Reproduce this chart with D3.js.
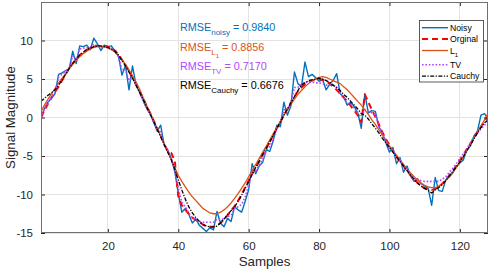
<!DOCTYPE html>
<html>
<head>
<meta charset="utf-8">
<script src="https://cdn.jsdelivr.net/npm/d3@7"></script>
<style>
html,body{margin:0;padding:0;background:#fff;}
svg{display:block;font-family:"Liberation Sans",Arial,Helvetica,sans-serif;}
</style>
</head>
<body>
<svg id="chart" width="498" height="273"></svg>
<script>
// ---- data ----
const samples = d3.range(1, 129);

const noisy = [0.0,1.2,2.0,2.5,3.1,5.6,5.8,6.1,6.3,8.6,7.0,9.3,9.2,9.4,8.8,10.3,9.6,8.7,9.4,9.2,
9.3,8.6,8.0,5.5,6.8,3.6,6.7,4.2,3.3,2.2,1.2,0.5,-0.6,-1.8,-1.0,-3.6,-4.2,-5.3,-7.0,-9.8,
-12.3,-11.8,-12.6,-13.7,-13.2,-14.0,-14.4,-14.8,-14.3,-14.6,-12.2,-13.7,-14.2,-13.1,-13.5,-11.6,-12.0,-12.3,-10.9,-9.4,
-6.0,-7.3,-6.3,-5.8,-4.2,-4.4,-3.0,-1.0,-1.2,2.0,0.3,1.5,5.9,4.4,4.0,7.2,5.3,5.6,5.2,4.7,
4.9,3.6,4.3,4.8,5.7,3.1,2.7,1.6,2.0,1.4,0.6,-1.4,3.1,0.6,0.9,0.8,-1.2,-2.0,-3.3,-4.5,
-3.9,-6.0,-5.2,-7.1,-6.3,-7.6,-8.3,-8.0,-8.6,-8.9,-9.2,-11.4,-7.8,-9.5,-9.6,-8.1,-7.7,-7.2,-6.4,-5.9,
-5.5,-4.2,-3.7,-2.4,-1.8,0.3,0.5,-0.1];

const original = [0.0,0.9,1.8,2.6,3.3,4.0,4.8,5.6,6.4,7.0,7.6,8.1,8.5,8.8,9.0,9.2,9.3,9.3,9.3,9.2,
9.0,8.7,8.2,7.5,6.8,6.0,5.2,4.3,3.4,2.5,1.5,0.6,-0.4,-1.4,-2.4,-3.4,-4.4,-4.6,-5.6,-10.2,
-11.4,-12.0,-12.5,-13.0,-13.3,-13.6,-13.9,-14.1,-14.2,-14.2,-14.0,-13.7,-13.2,-12.7,-12.1,-11.5,-10.8,-10.0,-9.1,-8.2,
-7.3,-6.5,-5.7,-4.8,-4.0,-3.2,-2.3,-1.4,-0.6,0.3,1.1,1.9,2.7,3.4,3.9,4.3,4.6,4.8,4.9,5.0,
4.9,4.7,4.4,4.0,3.6,3.1,2.6,2.1,1.5,0.9,0.3,-0.6,3.0,2.0,1.0,0.1,-0.9,-1.9,-2.8,-3.6,
-4.4,-5.1,-5.7,-6.3,-6.9,-7.5,-8.0,-8.5,-8.9,-9.2,-9.3,-9.4,-9.3,-9.0,-8.6,-8.1,-7.5,-6.9,-6.3,-5.6,
-4.9,-4.1,-3.4,-2.6,-1.9,-1.2,-0.5,0.2];

const l1 = [0.8,1.6,2.4,3.1,3.8,4.5,5.1,5.7,6.3,6.9,7.4,7.9,8.3,8.6,8.9,9.1,9.2,9.2,9.2,9.0,
8.8,8.5,8.0,7.5,6.9,6.2,5.4,4.6,3.7,2.6,1.6,0.6,-0.4,-1.4,-2.4,-3.4,-4.4,-5.4,-6.5,-7.5,
-8.3,-9.0,-9.7,-10.3,-10.8,-11.3,-11.8,-12.1,-12.4,-12.5,-12.5,-12.3,-12.0,-11.6,-11.1,-10.5,-9.9,-9.2,-8.5,-7.7,
-6.9,-6.1,-5.3,-4.5,-3.7,-2.9,-2.1,-1.3,-0.5,0.3,1.0,1.7,2.4,3.0,3.5,4.0,4.4,4.8,5.0,5.2,
5.3,5.2,5.0,4.8,4.6,4.4,4.0,3.6,3.1,2.6,2.1,1.6,1.0,0.4,-0.3,-0.9,-1.6,-2.3,-3.0,-3.7,
-4.3,-4.9,-5.5,-6.1,-6.7,-7.2,-7.7,-8.1,-8.5,-8.8,-9.0,-9.1,-9.1,-8.9,-8.6,-8.2,-7.7,-7.1,-6.5,-5.8,
-5.1,-4.3,-3.5,-2.7,-1.9,-1.1,-0.3,0.5];

const tv = [0.0,1.1,2.0,2.6,3.2,5.3,5.6,6.0,6.3,8.0,7.5,8.9,9.0,9.1,9.1,9.5,9.3,9.0,9.2,9.1,
9.0,8.5,7.9,6.2,6.2,4.8,5.2,4.2,3.3,2.2,1.2,0.4,-0.6,-1.5,-1.8,-3.5,-4.3,-5.3,-6.9,-9.2,
-11.0,-11.6,-12.4,-13.1,-13.2,-13.5,-13.6,-13.6,-13.6,-13.6,-13.2,-13.2,-13.2,-12.9,-12.7,-11.8,-11.6,-11.3,-10.3,-8.8,
-7.0,-7.0,-6.2,-5.4,-4.3,-3.8,-2.7,-1.4,-0.9,1.0,1.0,1.9,3.9,3.9,4.3,4.6,4.6,4.6,4.5,4.5,
4.4,4.2,4.2,4.2,3.9,3.1,2.6,1.9,1.7,1.2,0.5,0.1,1.0,0.8,0.6,0.4,-1.1,-2.0,-3.1,-4.0,
-4.3,-5.2,-5.5,-6.5,-6.7,-7.5,-7.9,-8.0,-8.2,-8.3,-8.3,-8.3,-8.3,-8.3,-8.0,-7.7,-7.1,-6.6,-6.0,-5.3,
-4.7,-4.0,-3.3,-2.6,-2.0,-1.5,-1.0,-0.6];

const cauchy = [2.1,2.5,2.9,3.2,3.6,4.2,4.9,5.6,6.4,7.0,7.6,8.1,8.5,8.8,9.0,9.2,9.3,9.3,9.2,9.1,
8.9,8.6,8.1,7.4,6.7,5.9,5.1,4.2,3.3,2.4,1.4,0.5,-0.5,-1.5,-2.5,-3.5,-4.5,-5.5,-6.7,-8.1,
-9.4,-10.6,-11.6,-12.4,-13.0,-13.5,-13.9,-14.1,-14.2,-14.2,-14.1,-13.7,-13.2,-12.6,-12.1,-11.6,-10.9,-10.1,-9.2,-8.3,
-7.4,-6.5,-5.7,-4.8,-4.0,-3.2,-2.3,-1.4,-0.6,0.3,1.1,1.9,2.7,3.5,4.2,4.5,4.8,4.9,5.0,5.1,
5.0,4.8,4.6,4.2,3.9,3.5,3.0,2.6,2.1,1.6,1.1,0.5,0.3,-0.2,-0.8,-1.4,-2.0,-2.7,-3.3,-3.9,
-4.5,-5.1,-5.7,-6.3,-6.9,-7.5,-8.0,-8.5,-8.9,-9.2,-9.5,-9.8,-9.4,-9.1,-8.7,-8.2,-7.6,-7.0,-6.4,-5.8,
-5.1,-4.3,-3.6,-2.8,-2.0,-1.3,-0.7,-0.3];

const xTicks = [20, 40, 60, 80, 100, 120];
const yTicks = [-15, -10, -5, 0, 5, 10];
const yGrid = [-15, -10, -5, 0, 5, 10, 15];

const seriesNames = ["Noisy", "Orginal", "L1", "TV", "Cauchy"];
const rmseLabels = ["noisy", "L1", "TV", "Cauchy"];
const rmseValues = ["0.9840", "0.8856", "0.7170", "0.6676"];

// ---- drawing ----
const svg = d3.select("#chart");
const L = 41, R = 488, T = 2, B = 233;
const x = d3.scaleLinear().domain([1, 128]).range([L, R]);
const y = d3.scaleLinear().domain([-15, 15]).range([B, T]);

const axisColor = "#262626";

// grid
const grid = svg.append("g");
grid.selectAll("line.gx").data(xTicks).join("line")
  .attr("x1", d => x(d)).attr("x2", d => x(d)).attr("y1", T).attr("y2", B)
  .attr("stroke", "#e3e3e3").attr("stroke-width", 1).attr("shape-rendering", "crispEdges");
grid.selectAll("line.gy").data(yGrid).join("line")
  .attr("x1", L).attr("x2", R).attr("y1", d => y(d)).attr("y2", d => y(d))
  .attr("stroke", "#e3e3e3").attr("stroke-width", 1).attr("shape-rendering", "crispEdges");

// series
const colors = {Noisy: "#0072BD", Orginal: "#FF0000", L1: "#D95319", TV: "#B446FF", Cauchy: "#000000"};
const styles = {
  Noisy:   {w: 1.4, dash: null},
  Orginal: {w: 2.0, dash: "6,4"},
  L1:      {w: 1.3, dash: null},
  TV:      {w: 1.6, dash: "1.6,1.8"},
  Cauchy:  {w: 1.3, dash: "4,1.5,1.2,1.5"}
};
const data = {Noisy: noisy, Orginal: original, L1: l1, TV: tv, Cauchy: cauchy};
const line = d3.line().x((d, i) => x(samples[i])).y(d => y(d));

svg.append("clipPath").attr("id", "clip").append("rect")
  .attr("x", L).attr("y", T).attr("width", R - L).attr("height", B - T);

const plot = svg.append("g").attr("clip-path", "url(#clip)");
seriesNames.forEach(name => {
  plot.append("path").datum(data[name])
    .attr("d", line)
    .attr("fill", "none")
    .attr("stroke", colors[name])
    .attr("stroke-width", styles[name].w)
    .attr("stroke-dasharray", styles[name].dash)
    .attr("stroke-linejoin", "round");
});

// axes
const tickFont = "11.5px";
const gx = svg.append("g").attr("transform", `translate(0,${B})`)
  .call(d3.axisBottom(x).tickValues(xTicks).tickSize(-4).tickPadding(9).tickSizeOuter(0));
const gxTop = svg.append("g").attr("transform", `translate(0,${T})`)
  .call(d3.axisTop(x).tickValues(xTicks).tickSize(-4).tickFormat("").tickSizeOuter(0));
const gy = svg.append("g").attr("transform", `translate(${L},0)`)
  .call(d3.axisLeft(y).tickValues(yTicks).tickSize(-4).tickPadding(8).tickSizeOuter(0));
const gyR = svg.append("g").attr("transform", `translate(${R},0)`)
  .call(d3.axisRight(y).tickValues(yTicks).tickSize(-4).tickFormat("").tickSizeOuter(0));

[gx, gxTop, gy, gyR].forEach(g => {
  g.select(".domain").remove();
  g.selectAll("line").attr("stroke", axisColor);
  g.selectAll("text").attr("fill", axisColor).style("font-size", tickFont)
    .style("font-family", '"Liberation Sans",Arial,sans-serif');
});
gy.selectAll("text").text(d => d < 0 ? "-" + Math.abs(d) : d);

// box
svg.append("rect").attr("x", L + 0.5).attr("y", T + 0.5)
  .attr("width", R - L - 1).attr("height", B - T - 1)
  .attr("fill", "none").attr("stroke", "#707070").attr("stroke-width", 1)
  .attr("shape-rendering", "crispEdges");

// axis labels
svg.append("text").attr("x", (L + R) / 2).attr("y", 266).attr("text-anchor", "middle")
  .attr("fill", axisColor).style("font-size", "13.3px").text("Samples");
svg.append("text").attr("transform", `translate(15,${(T + B) / 2}) rotate(-90)`)
  .attr("text-anchor", "middle").attr("fill", axisColor).style("font-size", "13.3px")
  .text("Signal Magnitude");

// RMSE annotations
const annColors = ["#0072BD", "#D95319", "#B446FF", "#000000"];
const annY = [31, 50.5, 69.5, 89];
rmseLabels.forEach((lab, i) => {
  const t = svg.append("text").attr("x", 180).attr("y", annY[i])
    .attr("fill", annColors[i]).style("font-size", "10.8px");
  t.append("tspan").text("RMSE");
  if (lab === "L1") {
    t.append("tspan").attr("dy", 4).style("font-size", "8px").text("L");
    t.append("tspan").attr("dy", 3).style("font-size", "6px").text("1");
    t.append("tspan").attr("dy", -7).text(" = " + rmseValues[i]);
  } else {
    t.append("tspan").attr("dy", 4).style("font-size", "8px").text(lab);
    t.append("tspan").attr("dy", -4).text(" = " + rmseValues[i]);
  }
});

// legend
const lg = svg.append("g");
lg.append("rect").attr("x", 419.5).attr("y", 20.5).attr("width", 64).attr("height", 61.5)
  .attr("fill", "#fff").attr("stroke", "#333").attr("stroke-width", 0.8);
const rowY = [27.7, 39, 50.5, 64.8, 76.2];
seriesNames.forEach((name, i) => {
  lg.append("line").attr("x1", 422).attr("x2", 448).attr("y1", rowY[i]).attr("y2", rowY[i])
    .attr("stroke", colors[name]).attr("stroke-width", styles[name].w)
    .attr("stroke-dasharray", styles[name].dash);
  const t = lg.append("text").attr("x", 450).attr("y", rowY[i] + 3)
    .attr("fill", "#000").style("font-size", "8.7px");
  if (name === "L1") {
    t.append("tspan").text("L");
    t.append("tspan").attr("dy", 3).style("font-size", "6px").text("1");
  } else {
    t.text(name);
  }
});
</script>
</body>
</html>
